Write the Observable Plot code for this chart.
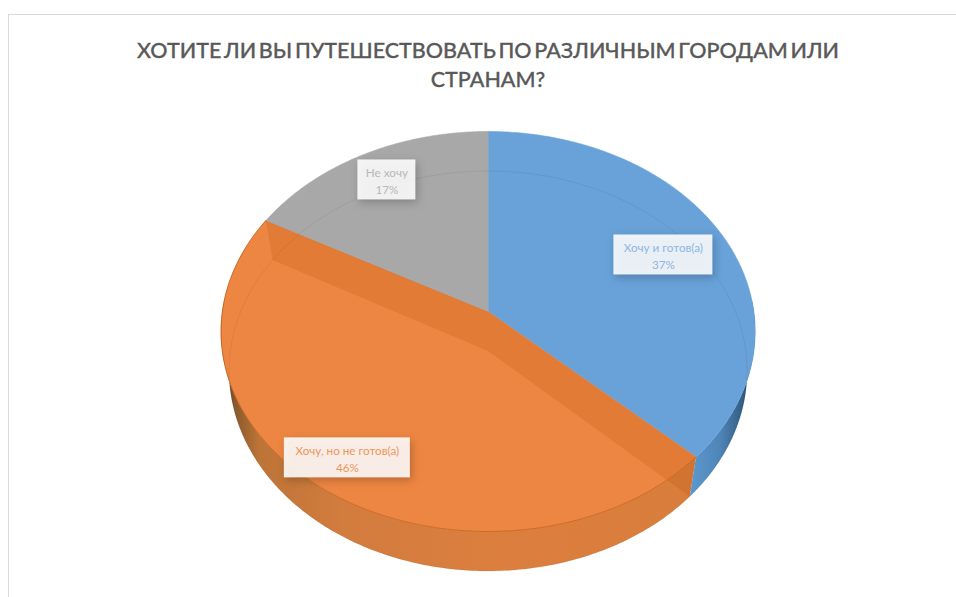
<!DOCTYPE html>
<html lang="ru">
<head>
<meta charset="utf-8">
<script src="https://cdn.jsdelivr.net/npm/d3@7"></script>
<script src="https://cdn.jsdelivr.net/npm/@observablehq/plot@0.6"></script>
<style>
  html, body { margin: 0; padding: 0; background: #fff; width: 956px; height: 597px; overflow: hidden; }
  #frame { position: absolute; left: 8px; top: 14px; width: 1000px; height: 700px; border: 1.5px solid #d9d9d9; box-sizing: border-box; pointer-events: none; }
  #title { position: relative; height: 100px; box-sizing: border-box; padding-top: 35.5px; width: 720px; margin-left: 128px;
    text-align: center; font: 500 21.5px/29px Lato, "Open Sans", sans-serif; word-spacing: -2.75px; color: #595959; -webkit-text-stroke: 0.3px #595959; }
  #chart { display: block; }
</style>
</head>
<body>
<div id="frame"></div>
<div id="title">ХОТИТЕ ЛИ ВЫ ПУТЕШЕСТВОВАТЬ ПО РАЗЛИЧНЫМ ГОРОДАМ ИЛИ СТРАНАМ?</div>
<div id="chart"></div>
<script>
const categories = ["Хочу и готов(а)", "Хочу, но не готов(а)", "Не хочу"];
const shares = [37, 46, 17];
const sliceColors = ["#68a2d9", "#ed8642", "#a8a8a8"];
const labelColors = ["#8ab7e3", "#f29459", "#b8b8b8"];

// layout of the perspective view
const tilt = 0.1, apexShift = -0.1, depth = 0.1975, shrink = 0.97;
const labelRadius = [0.74, 0.84, 0.8];
const labelShift = [0, 0.01, -0.02];
const labelWidth = [99, 126, 58], labelHeight = 40;
const radiusX = 265.7, radiusY = 200;
const centerX = 487.6, centerY = 231;

const total = d3.sum(shares);
const ends = d3.cumsum(shares).map(v => v / total);
const starts = [0, ...ends.slice(0, -1)];

function project(turn, r, level) {
  const a = turn * 2 * Math.PI, u = r * Math.sin(a), v = -r * Math.cos(a), w = 1 - tilt * v;
  return { x: (1 - (1 - shrink) * level) * u / w, y: (v + apexShift) / w + depth * level };
}
const arc = (t0, t1, level) => d3.range(0, 201).map(i => project(t0 + (t1 - t0) * i / 200, 1, level));

const tops = starts.map((s, i) => [...arc(s, ends[i], 0), project(0, 0, 0), project(s, 1, 0)]);
const blueWall = [...arc(0.24, ends[0], 0), ...arc(0.24, ends[0], 1).reverse()];
const orangeWall = [...arc(ends[0], 0.76, 0), ...arc(ends[0], 0.76, 1).reverse()];
const cutWall = [
  project(ends[0], 1, 0), project(0, 0, 0), project(ends[1], 1, 0),
  project(ends[1], 1, 1), project(0, 0, 1), project(ends[0], 1, 1), project(ends[0], 1, 0)
];
const innerRing = arc(0, 1, 1);
const frontEdge = arc(ends[0], ends[1], 0);

const labels = categories.map((name, i) => {
  const p = project((starts[i] + ends[i]) / 2, labelRadius[i], 0);
  return { x: p.x, y: p.y + labelShift[i], text: `${name}\n${shares[i]}%`, i };
});

const gradients = () => {
  const ns = "http://www.w3.org/2000/svg";
  const defs = document.createElementNS(ns, "defs");
  const make = (id, stops) => {
    const g = document.createElementNS(ns, "linearGradient");
    g.setAttribute("id", id);
    stops.forEach(([o, c]) => {
      const s = document.createElementNS(ns, "stop");
      s.setAttribute("offset", o); s.setAttribute("stop-color", c);
      g.appendChild(s);
    });
    defs.appendChild(g);
  };
  make("orangeSide", [[0, "#4e3115"], [0.03, "#8a5a2c"], [0.08, "#bd7437"], [0.25, "#d27c3e"], [0.6, "#dc7f3e"], [1, "#d97d3c"]]);
  make("blueSide", [[0, "#5c98cf"], [0.45, "#4f86b8"], [0.8, "#345f86"], [1, "#1f3d58"]]);
  return defs;
};

const chart = Plot.plot({
  width: 956,
  height: 497,
  margin: 0,
  axis: null,
  x: { domain: [-1, 1], range: [centerX - radiusX, centerX + radiusX] },
  y: { domain: [-1, 1], range: [centerY - radiusY, centerY + radiusY] },
  marks: [
    gradients,
    Plot.line(orangeWall, { x: "x", y: "y", fill: "url(#orangeSide)", stroke: "none" }),
    Plot.line(blueWall, { x: "x", y: "y", fill: "url(#blueSide)", stroke: "none" }),
    ...tops.map((t, i) => Plot.line(t, { x: "x", y: "y", fill: sliceColors[i], stroke: sliceColors[i], strokeWidth: 0.6 })),
    Plot.line(cutWall, { x: "x", y: "y", fill: "#b8560f", fillOpacity: 0.23, stroke: "none" }),
    Plot.line(innerRing, { x: "x", y: "y", stroke: "#000", strokeOpacity: 0.06, strokeWidth: 1 }),
    Plot.line(frontEdge, { x: "x", y: "y", stroke: "#b85c1a", strokeOpacity: 0.7, strokeWidth: 1 }),
    Plot.rect(labels, {
      x1: d => d.x - labelWidth[d.i] / 2 / radiusX,
      x2: d => d.x + labelWidth[d.i] / 2 / radiusX,
      y1: d => d.y - labelHeight / 2 / radiusY,
      y2: d => d.y + labelHeight / 2 / radiusY,
      fill: "#fff",
      fillOpacity: 0.88,
      imageFilter: "drop-shadow(2px 3px 4px rgba(0,0,0,0.25))"
    }),
    Plot.text(labels, {
      x: "x", y: "y", text: "text",
      fill: d => labelColors[d.i],
      lineHeight: 1.45,
      fontSize: 11.7,
      fontFamily: "Lato, sans-serif"
    })
  ]
});
document.getElementById("chart").append(chart);
</script>
</body>
</html>
